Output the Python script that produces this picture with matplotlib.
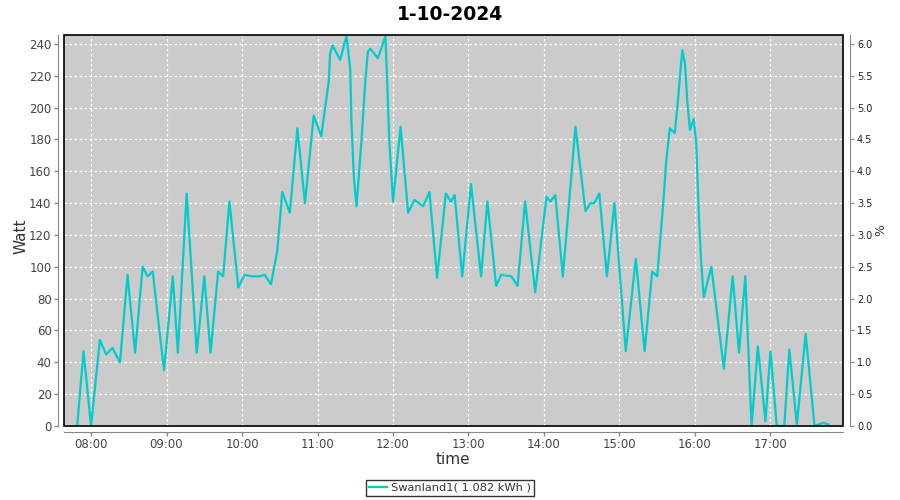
import matplotlib
matplotlib.use("Agg")
import matplotlib.pyplot as plt
import matplotlib.dates as mdates
from matplotlib.patches import Rectangle
import pandas as pd

title = "1-10-2024"
series_name = "Swanland1( 1.082 kWh )"

times = ["07:49", "07:54", "08:00", "08:07", "08:12", "08:17", "08:23", "08:29", "08:35",
         "08:41", "08:45", "08:49", "08:58", "09:05", "09:09", "09:16", "09:24", "09:30",
         "09:35", "09:41", "09:45", "09:50", "09:57", "10:02", "10:08", "10:14", "10:18",
         "10:23", "10:28", "10:32", "10:38", "10:44", "10:50", "10:57", "11:03", "11:09",
         "11:10", "11:12", "11:18", "11:23", "11:26", "11:27", "11:29", "11:31", "11:35",
         "11:38", "11:40", "11:42", "11:48", "11:54", "11:55", "11:57", "12:00", "12:06",
         "12:12", "12:17", "12:24", "12:29", "12:35", "12:42", "12:46", "12:49", "12:55",
         "13:02", "13:10", "13:15", "13:22", "13:26", "13:34", "13:39", "13:45", "13:53",
         "14:02", "14:05", "14:09", "14:15", "14:25", "14:33", "14:37", "14:40", "14:44",
         "14:50", "14:56", "15:05", "15:13", "15:20", "15:26", "15:30", "15:35", "15:37",
         "15:40", "15:44", "15:47", "15:49", "15:50", "15:52", "15:54", "15:56", "15:59",
         "16:01", "16:03", "16:05", "16:07", "16:13", "16:23", "16:30", "16:35", "16:40",
         "16:45", "16:50", "16:56", "17:00", "17:05", "17:11", "17:15", "17:21", "17:28",
         "17:35", "17:42", "17:46"]
watts = [0, 47, 0, 54, 45, 49, 40, 95, 46, 100, 94, 97, 35, 94, 46, 146, 46, 94,
         46, 97, 94, 141, 87, 95, 94, 94, 95, 89, 110, 147, 134, 187, 140, 195, 182, 217,
         234, 239, 230, 245, 224, 190, 155, 138, 180, 217, 235, 237, 231, 245, 224, 180,
         141, 188, 134, 142, 138, 147, 93, 146, 141, 145, 94, 152, 94, 141, 88, 95, 94,
         88, 141, 84, 144, 141, 145, 94, 188, 135, 140, 140, 146, 94, 140, 47, 105, 47,
         97, 94, 142, 165, 187, 184, 209, 228, 236, 228, 203, 186, 193, 178, 134, 102,
         81, 100, 36, 94, 46, 94, 0, 50, 3, 47, 0, 0, 48, 1, 58, 0, 2, 1]

day = "2024-10-01 "
t = pd.to_datetime([day + s for s in times])

fig = plt.figure(figsize=(9, 5), dpi=100)
ax = fig.add_axes([64/900, 74/500, (843-64)/900, (426-35)/500])
ax.set_facecolor("#cbcbcb")
ax.plot(t, watts, color="#00cccc", lw=1.6, label=series_name, zorder=3,
        solid_joinstyle="round")

ax.set_xlim(pd.Timestamp(day + "07:38:30"), pd.Timestamp(day + "17:57:40"))
ax.set_ylim(0, 245.6)
ax.set_yticks(range(0, 241, 20))
ax.xaxis.set_major_locator(mdates.HourLocator())
ax.xaxis.set_major_formatter(mdates.DateFormatter("%H:%M"))
ax.grid(True, color="white", linestyle=(0, (2, 2)), lw=0.9)

for side in ["top", "right"]:
    ax.spines[side].set_visible(False)
for side in ["left", "bottom"]:
    ax.spines[side].set_position(("outward", 4))
    ax.spines[side].set_color("#888888")
ax.add_patch(Rectangle((0, 0), 1, 1, transform=ax.transAxes, fill=False,
                       edgecolor="black", lw=1.2, zorder=5, clip_on=False))
ax.tick_params(axis="both", colors="#888888", labelcolor="#444444", labelsize=8.5,
               length=3, width=1, pad=2)

ax2 = ax.twinx()
ax2.set_ylim(0, 245.6 / 40)
ax2.set_yticks([i * 0.5 for i in range(13)])
ax2.set_yticklabels([f"{i*0.5:.1f}" for i in range(13)])
for side in ["top", "left", "bottom"]:
    ax2.spines[side].set_visible(False)
ax2.spines["right"].set_position(("outward", 5))
ax2.spines["right"].set_color("#888888")
ax2.tick_params(axis="y", colors="#888888", labelcolor="#222222", labelsize=7,
                length=3, pad=2)

fig.text(0.5, 1 - 14/500, title, ha="center", va="center", fontsize=13.5, fontweight="bold")
fig.text(21/900, 1 - 236/500, "Watt", ha="center", va="center", rotation=90,
         fontsize=11, color="#333333")
fig.text(881/900, 1 - 230/500, "%", ha="center", va="center", rotation=90,
         fontsize=9, color="#333333")
fig.text(453/900, 1 - 460/500, "time", ha="center", va="center", fontsize=11,
         color="#333333")

leg = fig.legend(loc="center", bbox_to_anchor=(450/900, 1 - 488/500), fontsize=8.2,
                 frameon=True, fancybox=False, edgecolor="black", handlelength=1.6,
                 handletextpad=0.3, borderpad=0.3)
leg.get_frame().set_linewidth(1.0)
for txt in leg.get_texts():
    txt.set_color("#333333")

fig.savefig("out.png", dpi=100)
